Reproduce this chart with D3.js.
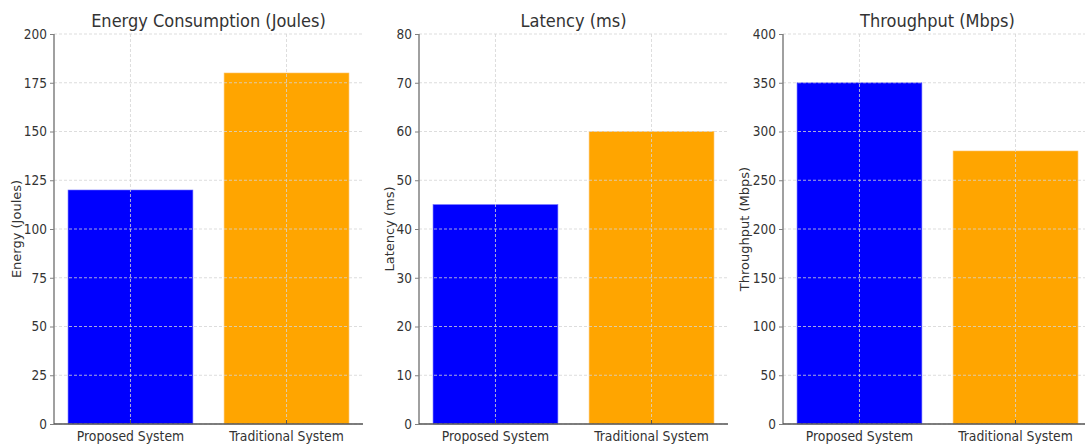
<!DOCTYPE html>
<html><head><meta charset="utf-8">
<script src="https://cdn.jsdelivr.net/npm/d3@7"></script>
<style>
body{margin:0;background:#fff;}
text{font-family:"DejaVu Sans Condensed","DejaVu Sans",sans-serif;}
text.ylab{font-family:"DejaVu Sans",sans-serif;}
</style></head>
<body><svg id="c" width="1085" height="448"></svg>
<script>
const categories = ["Proposed System", "Traditional System"];
const titles = ["Energy Consumption (Joules)", "Latency (ms)", "Throughput (Mbps)"];
const yLabels = ["Energy (Joules)", "Latency (ms)", "Throughput (Mbps)"];
const energyValues = [120, 180];
const latencyValues = [45, 60];
const throughputValues = [350, 280];
const yMax = [200, 80, 400];
const yTicks = [[0,25,50,75,100,125,150,175,200],[0,10,20,30,40,50,60,70,80],[0,50,100,150,200,250,300,350,400]];
const colors = ["#0000ff", "#ffa500"];
const seriesValues = [energyValues, latencyValues, throughputValues];

const svg = d3.select("#c");
const panelX = [[54,363],[419,728],[783,1092]];
const yLabelX = [16, 389, 744];
const plotTop = 34, plotBottom = 424;

seriesValues.forEach((vals, i) => {
  const [x0, x1] = panelX[i];
  const g = svg.append("g");
  const x = d3.scaleBand().domain(categories).range([x0, x1]).paddingInner(0.2).paddingOuter(0.09);
  const y = d3.scaleLinear().domain([0, yMax[i]]).range([plotBottom, plotTop]);
  // bars
  g.selectAll("rect.bar").data(vals).enter().append("rect")
    .attr("x", (d, j) => x(categories[j]))
    .attr("width", x.bandwidth())
    .attr("y", d => y(d))
    .attr("height", d => y(0) - y(d))
    .attr("fill", (d, j) => colors[j])
    .attr("stroke", (d, j) => j === 0 ? "#6b6bff" : "#ffc060")
    .attr("stroke-width", 0.6);
  // grid
  g.selectAll("line.hg").data(yTicks[i]).enter().append("line")
    .attr("x1", x0).attr("x2", x1).attr("y1", d => y(d)).attr("y2", d => y(d))
    .attr("stroke", "#d4d4d4").attr("stroke-width", 0.8).attr("stroke-dasharray", "3,2");
  g.selectAll("line.vg").data(categories).enter().append("line")
    .attr("x1", d => x(d) + x.bandwidth()/2).attr("x2", d => x(d) + x.bandwidth()/2)
    .attr("y1", plotTop).attr("y2", plotBottom)
    .attr("stroke", "#d4d4d4").attr("stroke-width", 0.8).attr("stroke-dasharray", "3,2");
  // y axis
  const ya = g.append("g").attr("transform", `translate(${x0},0)`)
    .call(d3.axisLeft(y).tickValues(yTicks[i]).tickSize(4).tickPadding(3));
  ya.select(".domain").attr("stroke", "#808080").attr("stroke-width", 1.5).attr("d", `M0,${plotTop}V${plotBottom}`);
  ya.selectAll(".tick line").attr("stroke", "#808080");
  ya.selectAll(".tick text").attr("fill", "#333").attr("font-size", 13.5);
  // x axis
  const xa = g.append("g").attr("transform", `translate(0,${plotBottom})`)
    .call(d3.axisBottom(x).tickSize(-4).tickPadding(7));
  xa.select(".domain").attr("stroke", "#555").attr("stroke-width", 1.5).attr("d", `M${x0},0H${x1}`);
  xa.selectAll(".tick line").attr("stroke", "#555");
  xa.selectAll(".tick text").attr("fill", "#333").attr("font-size", 13.8);
  // title
  g.append("text").attr("x", (x0 + x1) / 2).attr("y", 27).attr("text-anchor", "middle")
    .attr("font-size", 18).attr("fill", "#333").text(titles[i]);
  // y label
  g.append("text").attr("class", "ylab")
    .attr("transform", `translate(${yLabelX[i]},${(plotTop+plotBottom)/2}) rotate(-90)`)
    .attr("text-anchor", "middle").attr("dy", "0.35em").attr("font-size", 13)
    .attr("fill", "#333").text(yLabels[i]);
});
</script></body></html>
